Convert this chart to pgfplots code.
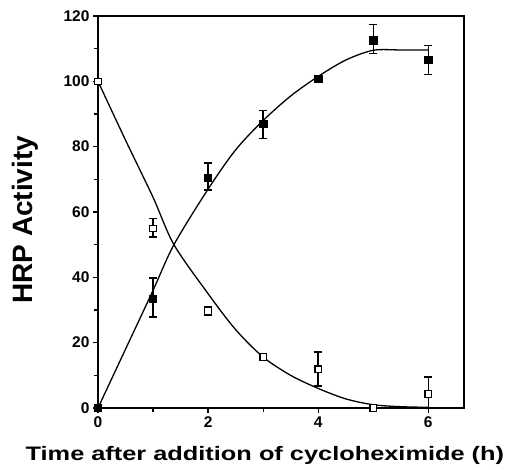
\documentclass[border=0pt]{standalone}
\usepackage{graphicx}
\usepackage{pgfplots}
\pgfplotsset{compat=1.18}
\usepackage{pgfplotstable}
\usepackage{fontspec}
\setmainfont{Liberation Sans}
\pgfplotstableread{
x y ep em
0 0 0 0
1 33.5 6.3 5.6
2 70.5 4.5 3.8
3 87 4 4.6
4 100.7 0 0
5 112.6 4.8 4
6 106.5 4.5 4.5
}\filled
\pgfplotstableread{
x y ep em
0 100 0 0
1 55 3 2.7
2 29.7 1.2 1.2
3 15.6 0 0
4 11.9 5.2 5.2
5 0 0 0
6 4.3 5.2 4.3
}\open
\begin{document}
\begin{tikzpicture}
\path[use as bounding box] (-98pt,-62pt) rectangle (409pt,408pt);
\begin{axis}[
  at={(0pt,0pt)}, anchor=origin,
  width=366pt, height=392pt, scale only axis,
  xmin=0, xmax=6.65, ymin=0, ymax=120,
  xtick={0,2,4,6}, ytick={0,20,...,120},
  minor xtick={1,3,5}, minor ytick={10,30,...,110},
  tick align=outside,
  xtick pos=bottom, ytick pos=left,
  major tick length=5pt, minor tick length=4pt,
  axis line style={line width=1.4pt, black},
  every tick/.style={line width=1.2pt, black},
  /pgf/number format/assume math mode=true,
  tick label style={font=\fontsize{15.5}{15.5}\selectfont\bfseries},
  xlabel={\scalebox{1.3}[1]{Time after addition of cycloheximide (h)}},
  ylabel={HRP Activity},
  xlabel style={font=\fontsize{19.5}{20}\selectfont\bfseries, at={(axis description cs:0.456,-0.12)}, anchor=center},
  ylabel style={font=\fontsize{28}{28}\selectfont\bfseries, at={(axis description cs:-0.2,0.48)}, anchor=center},
  clip=false,
]
\draw[line width=1.4pt, black] (rel axis cs:1,0) -- (rel axis cs:1,1) -- (rel axis cs:0,1);
\addplot[black, line width=1.3pt, smooth, tension=0.5] coordinates {
(0,100) (0.5,82) (1,64.5) (1.38,50) (2,35) (2.5,24) (3,15.6) (3.5,10) (4,6) (4.5,2.8) (5,1) (5.5,0.4) (6,0.2)};
\addplot[black, line width=1.3pt, smooth, tension=0.5] coordinates {
(0,0) (0.5,18) (1,36) (1.38,50) (2,67) (2.5,79) (3,88) (3.5,95.5) (4,101.5) (4.5,106.5) (5,109.5) (5.5,109.6) (6,109.6)};
\addplot[only marks, mark=square*, mark size=3.6pt, mark options={fill=black, draw=black},
  error bars/.cd, y dir=both, y explicit, error bar style={line width=1.3pt, black},
  error mark options={rotate=90, mark size=4pt, line width=1.3pt, black}]
  table[x=x, y=y, y error plus=ep, y error minus=em] {\filled};
\addplot[only marks, mark=square*, mark size=3.2pt, mark options={fill=white, draw=black, line width=1.2pt},
  error bars/.cd, y dir=both, y explicit, error bar style={line width=1.3pt, black},
  error mark options={rotate=90, mark size=4pt, line width=1.3pt, black}]
  table[x=x, y=y, y error plus=ep, y error minus=em] {\open};
\end{axis}
\end{tikzpicture}
\end{document}
